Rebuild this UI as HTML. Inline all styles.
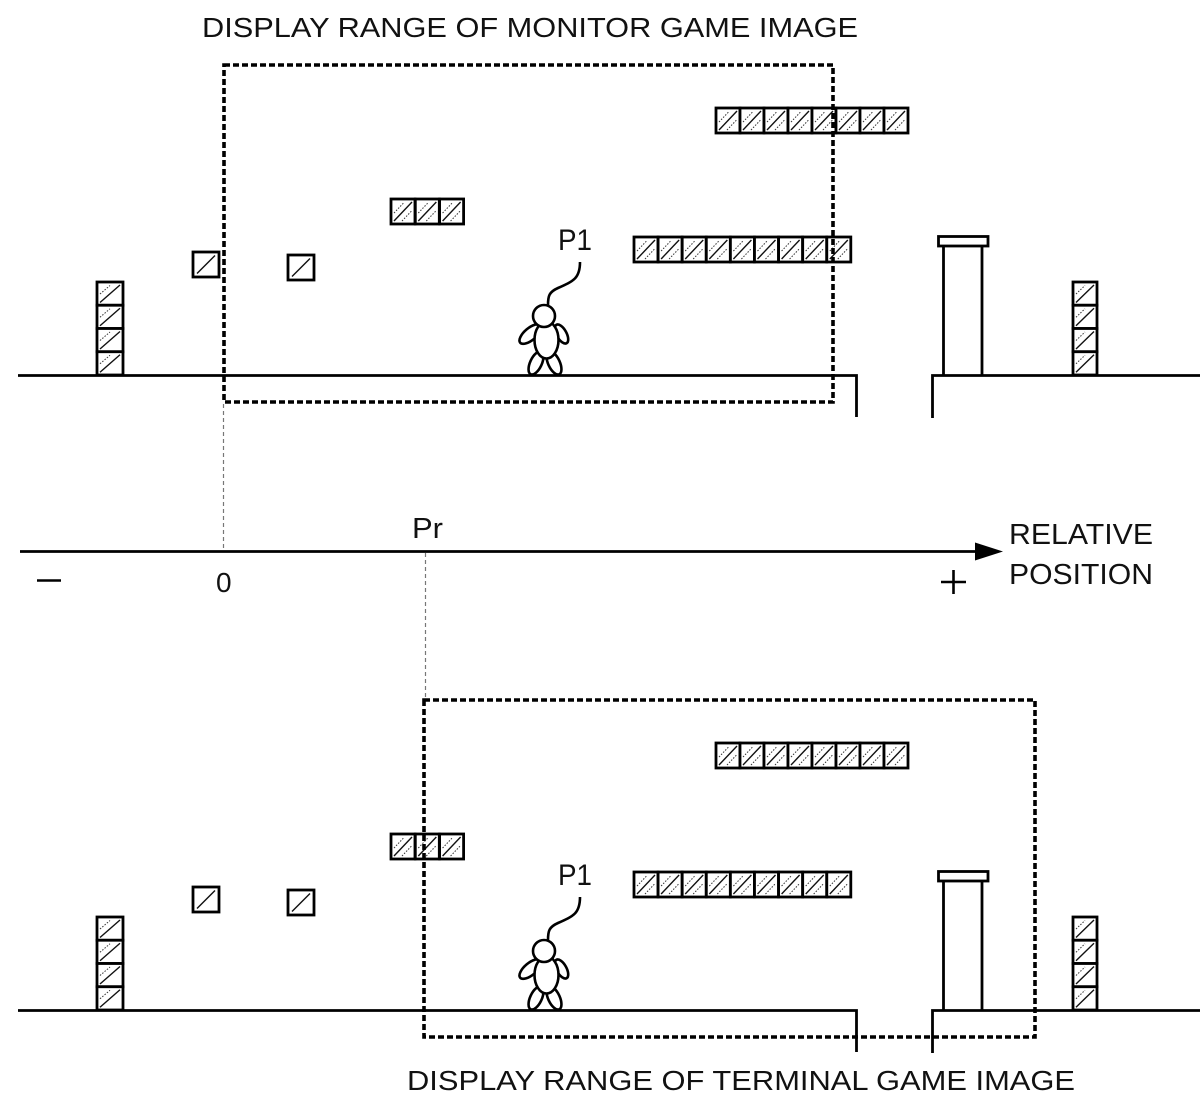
<!DOCTYPE html>
<html>
<head>
<meta charset="utf-8">
<style>
  html, body { margin: 0; padding: 0; background: #fff; }
  svg { display: block; }
  text { font-family: "Liberation Sans", "DejaVu Sans", sans-serif; fill: #111; }
</style>
</head>
<body>
<svg width="1200" height="1109" viewBox="0 0 1200 1109" xmlns="http://www.w3.org/2000/svg">
  <defs>
    <g id="c">
      <rect x="0" y="0" width="24" height="25" fill="#fff" stroke="#000" stroke-width="2.8"/>
      <line x1="3" y1="22" x2="21" y2="3" stroke="#111" stroke-width="1.4"/>
      <line x1="3" y1="14" x2="13" y2="3.5" stroke="#333" stroke-width="1" stroke-dasharray="1.5 1.5"/>
      <line x1="11" y1="22" x2="21" y2="11.5" stroke="#333" stroke-width="1" stroke-dasharray="1.5 1.5"/>
    </g>
    <g id="b">
      <rect x="0" y="0" width="26" height="25" fill="#fff" stroke="#000" stroke-width="2.8"/>
      <line x1="4" y1="21.5" x2="22" y2="3.5" stroke="#111" stroke-width="1.4"/>
    </g>
    <g id="sL">
      <rect x="0" y="0" width="26" height="23.25" fill="#fff" stroke="#000" stroke-width="2.8"/>
      <line x1="3" y1="20.5" x2="23" y2="3" stroke="#111" stroke-width="1.4"/>
      <line x1="3" y1="12" x2="13" y2="3.5" stroke="#333" stroke-width="1" stroke-dasharray="1.5 1.5"/>
    </g>
    <g id="sR">
      <rect x="0" y="0" width="24" height="23.25" fill="#fff" stroke="#000" stroke-width="2.8"/>
      <line x1="3" y1="20.5" x2="21" y2="3" stroke="#111" stroke-width="1.4"/>
      <line x1="3" y1="12" x2="12" y2="3.5" stroke="#333" stroke-width="1" stroke-dasharray="1.5 1.5"/>
    </g>

    <g id="scene">
      <!-- ground -->
      <path d="M18,375.5 H856.5 V417" fill="none" stroke="#000" stroke-width="2.8"/>
      <path d="M932.5,418 V375.5 H1200" fill="none" stroke="#000" stroke-width="2.8"/>

      <!-- left stack -->
      <use href="#sL" x="97" y="282"/>
      <use href="#sL" x="97" y="305.25"/>
      <use href="#sL" x="97" y="328.5"/>
      <use href="#sL" x="97" y="351.75"/>

      <!-- singles -->
      <use href="#b" x="193" y="252"/>
      <use href="#b" x="288" y="255"/>

      <!-- 3-row -->
      <use href="#c" x="391" y="199"/>
      <use href="#c" x="415.3" y="199"/>
      <use href="#c" x="439.6" y="199"/>

      <!-- top row 8 -->
      <use href="#c" x="716" y="108"/>
      <use href="#c" x="740" y="108"/>
      <use href="#c" x="764" y="108"/>
      <use href="#c" x="788" y="108"/>
      <use href="#c" x="812" y="108"/>
      <use href="#c" x="836" y="108"/>
      <use href="#c" x="860" y="108"/>
      <use href="#c" x="884" y="108"/>

      <!-- middle row 9 -->
      <use href="#c" x="634" y="237"/>
      <use href="#c" x="658.1" y="237"/>
      <use href="#c" x="682.2" y="237"/>
      <use href="#c" x="706.3" y="237"/>
      <use href="#c" x="730.4" y="237"/>
      <use href="#c" x="754.5" y="237"/>
      <use href="#c" x="778.6" y="237"/>
      <use href="#c" x="802.7" y="237"/>
      <use href="#c" x="826.8" y="237"/>

      <!-- pipe -->
      <line x1="943.5" y1="246" x2="943.5" y2="375" stroke="#000" stroke-width="2.8"/>
      <line x1="982" y1="246" x2="982" y2="375" stroke="#000" stroke-width="2.8"/>
      <rect x="938.5" y="236.5" width="49.5" height="9.5" fill="#fff" stroke="#000" stroke-width="2.8"/>

      <!-- right stack -->
      <use href="#sR" x="1073" y="282"/>
      <use href="#sR" x="1073" y="305.25"/>
      <use href="#sR" x="1073" y="328.5"/>
      <use href="#sR" x="1073" y="351.75"/>

      <!-- character -->
      <g fill="#fff" stroke="#000" stroke-width="2.6">
        <ellipse cx="536" cy="363" rx="5.8" ry="12.5" transform="rotate(25 536 363)"/>
        <ellipse cx="554" cy="363" rx="5.8" ry="12.5" transform="rotate(-25 554 363)"/>
        <ellipse cx="530.5" cy="334" rx="13.5" ry="6" transform="rotate(-40 530.5 334)"/>
        <ellipse cx="561.5" cy="334" rx="10.5" ry="5" transform="rotate(61 561.5 334)"/>
        <ellipse cx="546.5" cy="340" rx="12" ry="18.5"/>
        <circle cx="544" cy="316" r="11"/>
        <path d="M548,305 C548,296 549,292 558,288 C574,281 580,278 580,262" fill="none"/>
      </g>
    </g>
  </defs>

  <!-- Top scene -->
  <use href="#scene"/>
  <text x="558" y="250" font-size="30" textLength="34" lengthAdjust="spacingAndGlyphs">P1</text>

  <!-- Bottom scene -->
  <use href="#scene" transform="translate(0,635)"/>
  <text x="558" y="885" font-size="30" textLength="34" lengthAdjust="spacingAndGlyphs">P1</text>

  <!-- dashed display ranges -->
  <rect x="224" y="65" width="609" height="337" fill="none" stroke="#000" stroke-width="3.6" stroke-dasharray="6 3"/>
  <rect x="424" y="700" width="611" height="337" fill="none" stroke="#000" stroke-width="3.6" stroke-dasharray="6 3"/>

  <!-- thin guide lines -->
  <line x1="223.5" y1="404" x2="223.5" y2="550" stroke="#777" stroke-width="1.2" stroke-dasharray="4 3"/>
  <line x1="425.5" y1="553" x2="425.5" y2="698" stroke="#777" stroke-width="1.2" stroke-dasharray="4 3"/>

  <!-- axis -->
  <line x1="20" y1="551.5" x2="980" y2="551.5" stroke="#000" stroke-width="2.8"/>
  <polygon points="975,542.5 1003,551.5 975,560.5" fill="#000"/>
  <line x1="37" y1="580.5" x2="61" y2="580.5" stroke="#000" stroke-width="2.6"/>
  <line x1="941" y1="582" x2="966" y2="582" stroke="#000" stroke-width="2.6"/>
  <line x1="953.5" y1="570" x2="953.5" y2="594" stroke="#000" stroke-width="2.6"/>

  <!-- labels -->
  <text x="202" y="37" font-size="28" textLength="656" lengthAdjust="spacingAndGlyphs">DISPLAY RANGE OF MONITOR GAME IMAGE</text>
  <text x="407" y="1090" font-size="28" textLength="668" lengthAdjust="spacingAndGlyphs">DISPLAY RANGE OF TERMINAL GAME IMAGE</text>
  <text x="412" y="538" font-size="29" textLength="31" lengthAdjust="spacingAndGlyphs">Pr</text>
  <text x="216" y="592" font-size="28">0</text>
  <text x="1009" y="544" font-size="29" textLength="144" lengthAdjust="spacingAndGlyphs">RELATIVE</text>
  <text x="1009" y="584" font-size="29" textLength="144" lengthAdjust="spacingAndGlyphs">POSITION</text>
</svg>
</body>
</html>
